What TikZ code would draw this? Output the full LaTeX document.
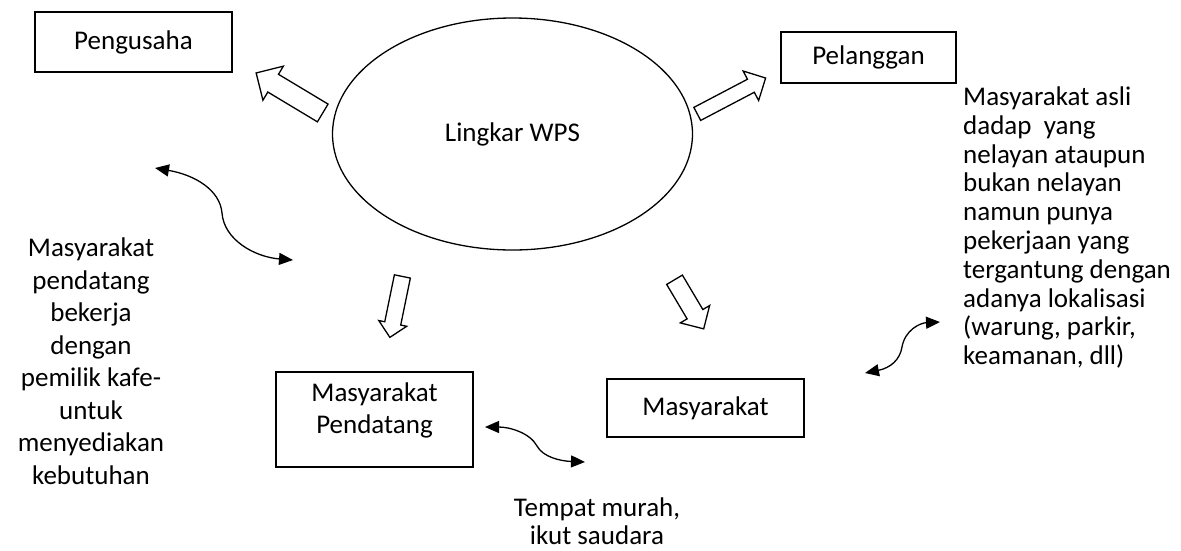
\documentclass[tikz,border=0pt]{standalone}
\usepackage{fontspec}
\setmainfont{Carlito}
\usetikzlibrary{shapes.geometric,shapes.arrows,arrows.meta}

\begin{document}
\begin{tikzpicture}[x=1pt,y=1pt,yscale=-1,
    every node/.style={font=\fontsize{27}{32.5}\selectfont},
    kotak/.style={draw, line width=1.3pt, inner sep=0pt},
    blok/.style={single arrow, draw, line width=1.3pt, anchor=tail, inner xsep=0pt, minimum width=0pt},
    lengkung/.style={line width=1.3pt, {Triangle[length=14pt,width=12pt]}-{Triangle[length=14pt,width=12pt]}}]

    \useasboundingbox (0,0) rectangle (1181,550);

    \draw (133.5,42)  node [kotak, minimum width=197, minimum height=60] (pengusaha) {Pengusaha};
    \draw (868.5,57.5) node [kotak, minimum width=175, minimum height=51] (pelanggan) {Pelanggan};
    \draw (512.5,134) node [kotak, ellipse, minimum width=360, minimum height=232] (wps) {Lingkar WPS};
    \draw (374.5,419.5) node [kotak, align=center, text depth=23pt, minimum width=197, minimum height=95] (pendatang) {Masyarakat\\Pendatang};
    \draw (705.5,408) node [kotak, minimum width=197, minimum height=58] (masyarakat) {Masyarakat};

    \draw (323.3,113.3) node [blok, rotate=149.0, minimum height=77.7, inner ysep=9.7, single arrow head extend=9.5] (pa) {};
    \draw (696.7,114.2) node [blok, rotate=27.7, minimum height=77.2, inner ysep=6.7, single arrow head extend=9.3] (pb) {};
    \draw (402.5,275.8) node [blok, rotate=258.4, minimum height=62.2, inner ysep=7.5, single arrow head extend=6.1] (pc) {};
    \draw (674.2,279.2) node [blok, rotate=300.7, minimum height=57.1, inner ysep=8.5, single arrow head extend=7.9] (pd) {};

    \draw (91,361) node [align=center] (ketpendatang) {Masyarakat\\pendatang\\bekerja\\dengan\\pemilik kafe-\\untuk\\menyediakan\\kebutuhan};
    \draw (963,227.5) node [anchor=west, align=left, inner sep=0pt, font=\fontsize{27}{28.8}\selectfont] (ketasli) {Masyarakat asli\\dadap\ \ yang\\nelayan ataupun\\bukan nelayan\\namun punya\\pekerjaan yang\\tergantung dengan\\adanya lokalisasi\\(warung, parkir,\\keamanan, dll)};
    \draw (597,521) node [align=center, font=\fontsize{27}{28}\selectfont] (kettempat) {Tempat murah,\\ikut saudara};

    \coordinate (ka1) at (155,168);
    \coordinate (ka2) at (293,260);
    \coordinate (kb1) at (865,373);
    \coordinate (kb2) at (940,322);
    \coordinate (kc1) at (485,427);
    \coordinate (kc2) at (585,462);
    \draw [lengkung] (ka1) .. controls (195,175) and (220,190) .. (222,213) .. controls (224,240) and (255,257) .. (ka2);
    \draw [lengkung] (kb1) .. controls (890,368) and (900,360) .. (902,347) .. controls (905,330) and (920,323) .. (kb2);
    \draw [lengkung] (kc1) .. controls (510,427) and (530,433) .. (537,446) .. controls (543,457) and (560,461) .. (kc2);

\end{tikzpicture}
\end{document}
